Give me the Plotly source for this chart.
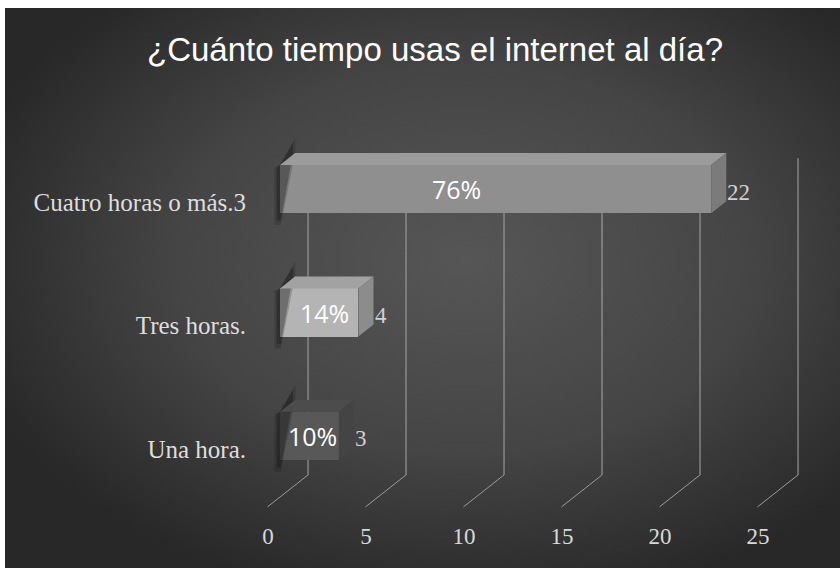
import base64
import plotly.graph_objects as go

# ---------------- data ----------------
categories = ["Una hora.", "Tres horas.", "Cuatro horas o más.3"]
values = [3, 4, 22]
tick_vals = [0, 5, 10, 15, 20, 25]
title_text = "¿Cuánto tiempo usas el internet al día?"

total = sum(values)
pct_labels = [f"{round(v / total * 100)}%" for v in values]

# ---------------- style / geometry ----------------
front_colors = ["#585858", "#b4b4b4", "#8f8f8f"]
top_colors = ["#4c4c4c", "#a2a2a2", "#9b9b9b"]
side_colors = ["#444444", "#8c8c8c", "#7b7b7b"]
pct_label_frac = [0.56, 0.57, 0.41]   # where along each bar the % label sits

bar_w = 0.39
dx, dy = 0.77, 0.097          # bar depth
wall_dx = 1.43                # back wall offset of gridlines
floor_front_dx = -0.64
y_wall_bottom, y_wall_top, y_floor = -0.316, 2.25, -0.575

W, H = 840, 568
ML, MR, MT, MB = 251, 21, 115, 58
x_range = [-1.48, 27.5]
y_range = [-0.6, 2.6]
ypos = list(range(len(categories)))

fig = go.Figure()

# soft shadows to the left of each bar
for yc in ypos:
    top, bot = yc + bar_w / 2, yc - bar_w / 2
    for grow, alpha in [(0.12, 0.18), (0.0, 0.28)]:
        fig.add_trace(go.Scatter(
            x=[0, 0.66 + grow, 0.66 + grow, 0.04, -0.16 - grow, -0.16 - grow, 0],
            y=[top, top + 0.18 + grow * 0.3, top + 0.1, bot - 0.06 - grow * 0.3,
               bot - 0.06 - grow * 0.3, top - 0.02, top],
            fill="toself", mode="lines", line=dict(width=0),
            fillcolor=f"rgba(10,10,10,{alpha})", hoverinfo="skip", showlegend=False))

# front faces
fig.add_trace(go.Bar(
    y=ypos, x=values, orientation="h", width=bar_w,
    marker=dict(color=front_colors, line=dict(width=0)),
    hoverinfo="skip", showlegend=False))

# top and side faces
for yc, v, tc, sc in zip(ypos, values, top_colors, side_colors):
    top, bot = yc + bar_w / 2, yc - bar_w / 2
    fig.add_trace(go.Scatter(
        x=[0, v, v + dx, dx, 0], y=[top, top, top + dy, top + dy, top],
        fill="toself", mode="lines", line=dict(width=0), fillcolor=tc,
        hoverinfo="skip", showlegend=False))
    fig.add_trace(go.Scatter(
        x=[v, v + dx, v + dx, v, v], y=[bot, bot + dy, top + dy, top, bot],
        fill="toself", mode="lines", line=dict(width=0), fillcolor=sc,
        hoverinfo="skip", showlegend=False))

# back wall gridlines + floor diagonals
shapes = []
for t in tick_vals:
    shapes.append(dict(type="line", xref="x", yref="y", layer="below",
                       x0=t + wall_dx, x1=t + wall_dx, y0=y_wall_bottom, y1=y_wall_top,
                       line=dict(color="#a6a6a6", width=1)))
    shapes.append(dict(type="line", xref="x", yref="y", layer="below",
                       x0=t + wall_dx, x1=t + floor_front_dx, y0=y_wall_bottom, y1=y_floor,
                       line=dict(color="#9a9a9a", width=1)))

annotations = []
for yc, v, p, fr in zip(ypos, values, pct_labels, pct_label_frac):
    annotations.append(dict(x=v * fr, y=yc, xref="x", yref="y", text=p, showarrow=False,
                            font=dict(family="Open Sans", size=25, color="#ffffff"),
                            xanchor="center", yanchor="middle"))
    annotations.append(dict(x=v + dx, y=yc, xref="x", yref="y", text=str(v), showarrow=False,
                            font=dict(family="Liberation Serif", size=23, color="#d0d0d0"),
                            xanchor="left", yanchor="middle", xshift=-1, yshift=-3))

# radial gradient background
svg = ('<svg xmlns="http://www.w3.org/2000/svg" width="835" height="560" viewBox="0 0 835 560" '
       'preserveAspectRatio="none"><defs><radialGradient id="g" cx="0.55" cy="0.45" r="0.62">'
       '<stop offset="0" stop-color="#565656"/><stop offset="0.55" stop-color="#454545"/>'
       '<stop offset="1" stop-color="#282828"/></radialGradient></defs>'
       '<rect width="835" height="560" fill="url(#g)"/></svg>')
src = "data:image/svg+xml;base64," + base64.b64encode(svg.encode()).decode()
pw, ph = W - ML - MR, H - MT - MB
bg_img = dict(source=src, xref="paper", yref="paper",
              x=(5 - ML) / pw, y=(H - MB - 8) / ph,
              sizex=(W - 5) / pw, sizey=(H - 8) / ph,
              xanchor="left", yanchor="top", sizing="stretch", layer="below")

fig.update_layout(
    width=W, height=H,
    margin=dict(l=ML, r=MR, t=MT, b=MB, pad=0),
    paper_bgcolor="#ffffff", plot_bgcolor="rgba(0,0,0,0)",
    images=[bg_img], shapes=shapes, annotations=annotations,
    title=dict(text=title_text, x=435 / W, y=1 - 49 / H, xref="container", yref="container",
               xanchor="center", yanchor="middle",
               font=dict(family="Liberation Sans", size=33, color="#ffffff")),
    xaxis=dict(range=x_range, tickvals=tick_vals, ticktext=[str(t) for t in tick_vals],
               showgrid=False, zeroline=False, showline=False, ticks="",
               ticklabelshift=-12, ticklabelstandoff=10,
               tickfont=dict(family="Liberation Serif", size=23, color="#d9d9d9"),
               fixedrange=True),
    yaxis=dict(range=y_range, tickvals=ypos, ticktext=categories,
               showgrid=False, zeroline=False, showline=False, ticks="",
               ticklabelshift=13, ticklabelstandoff=4,
               tickfont=dict(family="Liberation Serif", size=25, color="#dedede"),
               fixedrange=True),
    bargap=0,
)

fig.write_html("out.html", config={"displayModeBar": False})
